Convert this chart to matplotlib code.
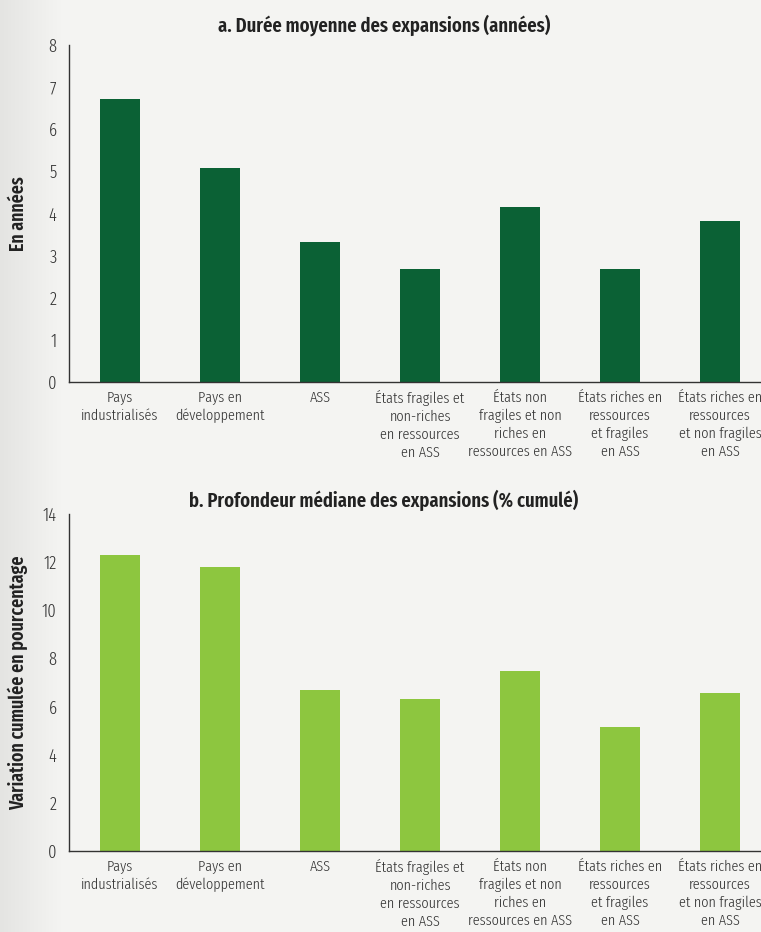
import numpy as np
import matplotlib
matplotlib.use("Agg")
import matplotlib.pyplot as plt

# categories and values
categories = [
    "Pays\nindustrialisés",
    "Pays en\ndéveloppement",
    "ASS",
    "États fragiles et\nnon-riches\nen ressources\nen ASS",
    "États non\nfragiles et non\nriches en\nressources en ASS",
    "États riches en\nressources\net fragiles\nen ASS",
    "États riches en\nressources\net non fragiles\nen ASS",
]
duree = [6.72, 5.08, 3.33, 2.68, 4.16, 2.68, 3.82]
profondeur = [12.3, 11.8, 6.69, 6.31, 7.48, 5.15, 6.56]

font = "Fira Sans Extra Condensed"
plt.rcParams["font.family"] = [font, "DejaVu Sans"]

bg = "#f4f4f2"
fig = plt.figure(figsize=(7.61, 9.32), dpi=100, facecolor=bg)

# soft shading on the left edge
bg_ax = fig.add_axes([0, 0, 1, 1], zorder=-10)
shade = np.clip(np.linspace(0, 1, 200) / 0.08, 0, 1)
base = np.array([0xf4, 0xf4, 0xf2]) / 255
edge = np.array([0xe4, 0xe4, 0xe2]) / 255
img = np.ones((2, 200, 3))
for i in range(200):
    img[:, i] = edge + (base - edge) * shade[i]
bg_ax.imshow(img, aspect="auto", extent=[0, 1, 0, 1])
bg_ax.axis("off")


def draw_panel(rect, values, color, ymax, step, ylabel, title, title_y):
    ax = fig.add_axes(rect)
    ax.set_facecolor("none")
    x = np.arange(len(values))
    ax.bar(x, values, width=0.4, color=color)
    ax.set_xlim(-0.51, 6.41)
    ax.set_ylim(0, ymax)
    ax.set_yticks(np.arange(0, ymax + 0.01, step))
    ax.set_xticks(x)
    ax.set_xticklabels(categories, linespacing=1.33)
    for lab in ax.get_xticklabels():
        lab.set_fontweight(300)
        lab.set_fontsize(11.2)
        lab.set_color("#333333")
    for lab in ax.get_yticklabels():
        lab.set_fontweight(300)
        lab.set_fontsize(13)
        lab.set_color("#333333")
    ax.tick_params(axis="both", length=0)
    ax.tick_params(axis="y", pad=9)
    ax.tick_params(axis="x", pad=6)
    for s in ["top", "right"]:
        ax.spines[s].set_visible(False)
    for s in ["left", "bottom"]:
        ax.spines[s].set_color("#333333")
        ax.spines[s].set_linewidth(1.0)
    fig.text(18 / 761, rect[1] + rect[3] / 2, ylabel, rotation=90, ha="center",
             va="center", fontsize=14, fontweight=600, color="#222222")
    fig.text(384 / 761, title_y, title, ha="center", va="center",
             fontsize=14.5, fontweight=600, color="#222222")
    return ax


draw_panel([69 / 761, 1 - 382 / 932, 1 - 69 / 761, (382 - 45) / 932],
           duree, "#0b6135", 8, 1, "En années",
           "a. Durée moyenne des expansions (années)", 1 - 25 / 932)
draw_panel([69 / 761, 1 - 851 / 932, 1 - 69 / 761, (851 - 514) / 932],
           profondeur, "#8dc63f", 14, 2, "Variation cumulée en pourcentage",
           "b. Profondeur médiane des expansions (% cumulé)", 1 - 500 / 932)

fig.savefig("out.png", dpi=100, facecolor=bg)
